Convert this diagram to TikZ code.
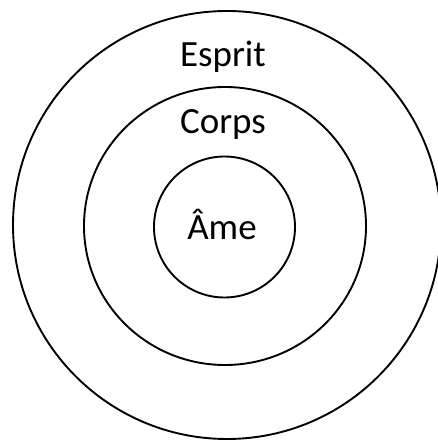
\documentclass[tikz,border=0pt]{standalone}
\usepackage{fontspec}
\setmainfont{Carlito}
\tikzset{
  ring/.style={draw=black, line width=1.9pt},
  lbl/.style={anchor=base, font=\fontsize{37}{40}\selectfont, inner sep=0pt}
}
\begin{document}
\begin{tikzpicture}[x=1pt,y=1pt]
\useasboundingbox (0,0) rectangle (438,442);
\fill[white] (0,0) rectangle (438,442);
\begin{scope}
\clip (0,0) rectangle (438,442);
\draw[ring] (227,217) circle[radius=214];
\end{scope}
\draw[ring] (225,216) ellipse[x radius=141, y radius=139];
\draw[ring] (224.5,215) circle[radius=70.5];
\node[lbl] (esprit) at (223,375) {Esprit};
\node[lbl] (corps) at (223,308) {Corps};
\node[lbl] (ame) at (222,202) {Âme};
\end{tikzpicture}
\end{document}
